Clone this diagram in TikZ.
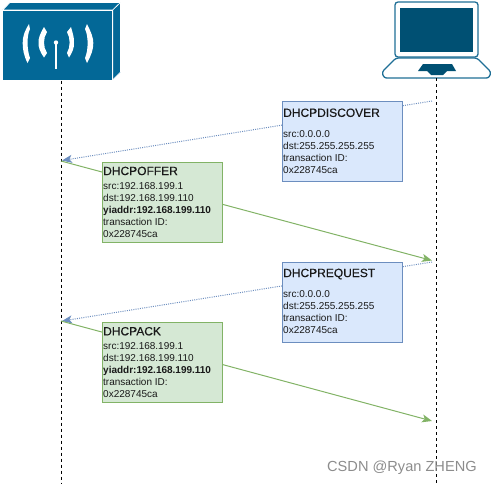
\documentclass[tikz,border=0pt]{standalone}
\usepackage{fontspec}
\setmainfont{Liberation Sans}
\usetikzlibrary{arrows.meta}
\definecolor{devblue}{HTML}{036897}
\definecolor{lapdark}{HTML}{005073}
\definecolor{lapline}{HTML}{1F6F96}
\definecolor{bluefill}{HTML}{DAE8FC}
\definecolor{blueline}{HTML}{6C8EBF}
\definecolor{greenfill}{HTML}{D5E8D4}
\definecolor{greenline}{HTML}{82B366}
\newcommand{\msgbody}[4]{\begin{minipage}[t][76pt][t]{118pt}\vspace{#3}\fontsize{12}{12}\selectfont\addfontfeature{FakeBold=0.25}\hspace*{0pt}#1\par\vspace{#4}\fontsize{10}{12}\selectfont\addfontfeature{FakeBold=0}#2\end{minipage}}
\tikzset{
  msgbox/.style={draw,line width=1pt,anchor=north west,inner xsep=1pt,inner ysep=2pt,minimum width=120pt,minimum height=80pt,text=black!90,align=left},
  bluebox/.style={msgbox,fill=bluefill,draw=blueline},
  greenbox/.style={msgbox,fill=greenfill,draw=greenline},
  lifeline/.style={draw=black,line width=0.9pt,dash pattern=on 3pt off 3pt},
  bluearrow/.style={draw=blueline,line width=1pt,dash pattern=on 1pt off 1.2pt,-{Stealth[length=10pt,width=8pt,fill=blueline,inset=2.5pt]}},
  greenarrow/.style={draw=greenline,line width=1pt,-{Stealth[length=10pt,width=8pt,fill=greenline,inset=2.5pt]}}
}
\begin{document}
\begin{tikzpicture}[x=1pt,y=-1pt]
\useasboundingbox (0,0) rectangle (492,483);
% router
\fill[devblue,draw=white,line width=0.6pt] (2.7,10) -- (10,2.5) -- (120.5,2.5) -- (112.7,10) -- cycle;
\fill[devblue,draw=white,line width=0.6pt] (112.7,10) -- (120.5,2.5) -- (120.5,72) -- (112.7,80) -- cycle;
\fill[devblue,draw=white,line width=0.6pt] (2.7,10) rectangle (112.7,80.5);
\fill[white] (29,24) .. controls (24,32) and (22.5,38) .. (22.7,43) .. controls (22.5,49) and (24,56) .. (27.5,63)
  -- (30,58) .. controls (27,50) and (26.5,36) .. (30,29) -- cycle;
\fill[white] (44,27) .. controls (40,34) and (38.3,38) .. (38.5,43) .. controls (38.3,47) and (40,52) .. (44,57.5)
  -- (47,53) .. controls (43,47) and (43,38) .. (47,32) -- cycle;
\fill[white] (71,27) .. controls (73,34) and (74.3,38) .. (74,43) .. controls (74.3,48) and (72,53) .. (69,57.5)
  -- (67,53) .. controls (70.5,47) and (70.5,38) .. (67,32) -- cycle;
\fill[white] (87,24) .. controls (91,32) and (93.5,38) .. (93.3,43) .. controls (93.5,49) and (91,56) .. (87,63)
  -- (85,58) .. controls (88.5,50) and (88.5,36) .. (85,29) -- cycle;
\draw[white,line width=1.6pt] (56,43) -- (56,69);
\fill[white] (56,42.5) circle (2.2);
% laptop
\draw[lapline,fill=white,line width=1.3pt,rounded corners=3pt] (395,2) rectangle (478,57);
\fill[lapdark] (400,7.5) rectangle (472.5,52);
\draw[lapline,fill=white,line width=1.3pt,rounded corners=2.5pt] (396,58) -- (382,72) -- (384,78) -- (489,78) -- (491,72) -- (477,58) -- cycle;
\fill[lapdark] (418,71) -- (423,64) -- (452,64) -- (456,71) -- (447,71) -- (443,75) -- (431,75) -- (427,71) -- cycle;
% anchors
\coordinate (routerfoot) at (61,80.5);
\coordinate (routerend) at (61,483);
\coordinate (pcfoot) at (436.5,78);
\coordinate (pcend) at (436.5,483);
\coordinate (d1) at (432,101);
\coordinate (d2) at (62,160.5);
\coordinate (o1) at (61,161);
\coordinate (o2) at (432,260.5);
\coordinate (r1) at (432,262);
\coordinate (r2) at (62,321);
\coordinate (p1) at (61,321);
\coordinate (p2) at (432,421);
\draw[lifeline] (routerfoot) -- (routerend);
\draw[lifeline] (pcfoot) -- (pcend);
\draw[bluearrow] (d1) -- (d2);
\draw[greenarrow] (o1) -- (o2);
\draw[bluearrow] (r1) -- (r2);
\draw[greenarrow] (p1) -- (p2);
% messages
\node[bluebox] (discover) at (281.7,101) {\msgbody{DHCPDISCOVER}{src:0.0.0.0\\dst:255.255.255.255\\transaction ID:\\0x228745ca}{5pt}{9pt}};
\node[greenbox] (offer) at (101.7,161.7) {\msgbody{DHCPOFFER}{src:192.168.199.1\\dst:192.168.199.110\\\textbf{yiaddr:192.168.199.110}\\transaction ID:\\0x228745ca}{2.5pt}{2pt}};
\node[bluebox] (request) at (281.7,261.7) {\msgbody{DHCPREQUEST}{src:0.0.0.0\\dst:255.255.255.255\\transaction ID:\\0x228745ca}{4.5pt}{8.5pt}};
\node[greenbox] (pack) at (101.7,321.5) {\msgbody{DHCPACK}{src:192.168.199.1\\dst:192.168.199.110\\\textbf{yiaddr:192.168.199.110}\\transaction ID:\\0x228745ca}{3pt}{2pt}};
\node[anchor=base west,inner sep=0pt,text=black!45,font=\fontsize{14.6}{15}\selectfont] (mark) at (327,471) {CSDN @Ryan ZHENG};
\end{tikzpicture}
\end{document}
